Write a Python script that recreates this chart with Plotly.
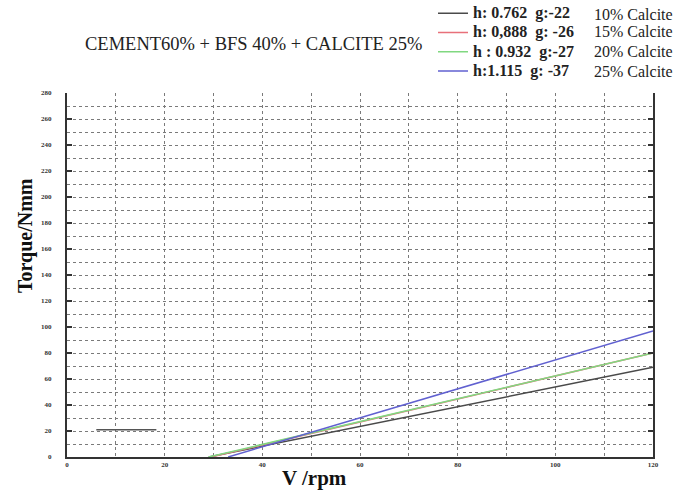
import plotly.graph_objects as go

# ---- data ----
series_names = ["h: 0.762\u00a0\u00a0g:-22", "h: 0,888\u00a0\u00a0g: -26",
                "h : 0.932\u00a0\u00a0g:-27", "h:1.115\u00a0\u00a0g: -37"]
series_labels = ["10% Calcite", "15% Calcite", "20% Calcite", "25% Calcite"]
series_colors = ["#4a4a4a", "#e8707a", "#80d880", "#6060d0"]
v_black = [29, 120]
t_black = [0, 69]
v_red = [29.5, 120]
t_red = [0, 80]
v_green = [29, 120]
t_green = [0, 80]
v_blue = [33, 120]
t_blue = [0, 97]
v_short = [6, 18.3]
t_short = [21, 21]
x_ticks = [0, 20, 40, 60, 80, 100, 120]
y_ticks = [0, 20, 40, 60, 80, 100, 120, 140, 160, 180, 200, 220, 240, 260, 280]

xs = [v_black, v_red, v_green, v_blue]
ys = [t_black, t_red, t_green, t_blue]

SERIF = "Liberation Serif"
fig = go.Figure()
# short stray segment
fig.add_trace(go.Scatter(x=v_short, y=t_short, mode="lines",
                         line=dict(color="#555555", width=1.5), showlegend=False))
for x, y, n, c in zip(xs, ys, series_names, series_colors):
    fig.add_trace(go.Scatter(x=x, y=y, mode="lines",
                             name='<span style="font-size:16px;font-family:\'Liberation Serif\'"><b>'
                                  + n + "</b></span>",
                             line=dict(color=c, width=1.5)))

L, R, T, B = 67, 22, 93, 35
W, H = 675, 492
pw, ph = W - L - R, H - T - B

def px_x(p):
    return (p - L) / pw

def px_y(p):
    return (H - B - p) / ph

ann = []
for i, (lab, ypx) in enumerate(zip(series_labels, [14, 32, 52, 71])):
    ann.append(dict(x=px_x(592), y=px_y(ypx), xref="paper", yref="paper",
                    text=lab, showarrow=False, xanchor="left", yanchor="middle",
                    font=dict(family=SERIF, size=16, color="#222")))
ann.append(dict(x=px_x(253), y=px_y(44), xref="paper", yref="paper",
                text="CEMENT60% + BFS 40% + CALCITE 25%", showarrow=False,
                xanchor="center", yanchor="middle",
                font=dict(family=SERIF, size=18.5, color="#222")))
ann.append(dict(x=px_x(314), y=px_y(478), xref="paper", yref="paper",
                text="<b>V /rpm</b>", showarrow=False, xanchor="center", yanchor="middle",
                font=dict(family=SERIF, size=21, color="#111")))
ann.append(dict(x=px_x(25), y=px_y(236), xref="paper", yref="paper",
                text="<b>Torque/Nmm</b>", showarrow=False, textangle=-90,
                xanchor="center", yanchor="middle",
                font=dict(family=SERIF, size=20, color="#111")))

GC = "#7a7a7a"
grid = dict(showgrid=True, gridcolor=GC, griddash="dot", gridwidth=1)
tf = dict(family=SERIF, size=7, color="#333", weight="bold")
fig.update_layout(
    width=W, height=H,
    margin=dict(l=L, r=R, t=T, b=B, autoexpand=False),
    paper_bgcolor="white", plot_bgcolor="white",
    showlegend=True,
    legend=dict(x=px_x(433), y=px_y(-1.5), xanchor="left", yanchor="top",
                font=dict(family=SERIF, size=12.5, color="#222"),
                itemwidth=30, tracegroupgap=0, bgcolor="rgba(0,0,0,0)"),
    annotations=ann,
    xaxis=dict(range=[0, 120], tickvals=x_ticks, ticks="", showline=True,
               linecolor="#333", linewidth=2, zeroline=False,
               tickfont=tf,
               minor=dict(dtick=10, tick0=0, showgrid=True, gridcolor=GC,
                          griddash="dot", gridwidth=1),
               **grid),
    yaxis=dict(range=[0, 280], tickvals=y_ticks, ticks="inside", ticklen=5,
               tickwidth=1.5, tickcolor="#333", showline=True, mirror="ticks",
               linecolor="#333", linewidth=2, zeroline=False,
               ticklabelstandoff=12,
               tickfont=tf,
               minor=dict(dtick=10, tick0=0, showgrid=True, gridcolor=GC,
                          griddash="dot", gridwidth=1),
               **grid),
)
fig.write_html("out.html")
